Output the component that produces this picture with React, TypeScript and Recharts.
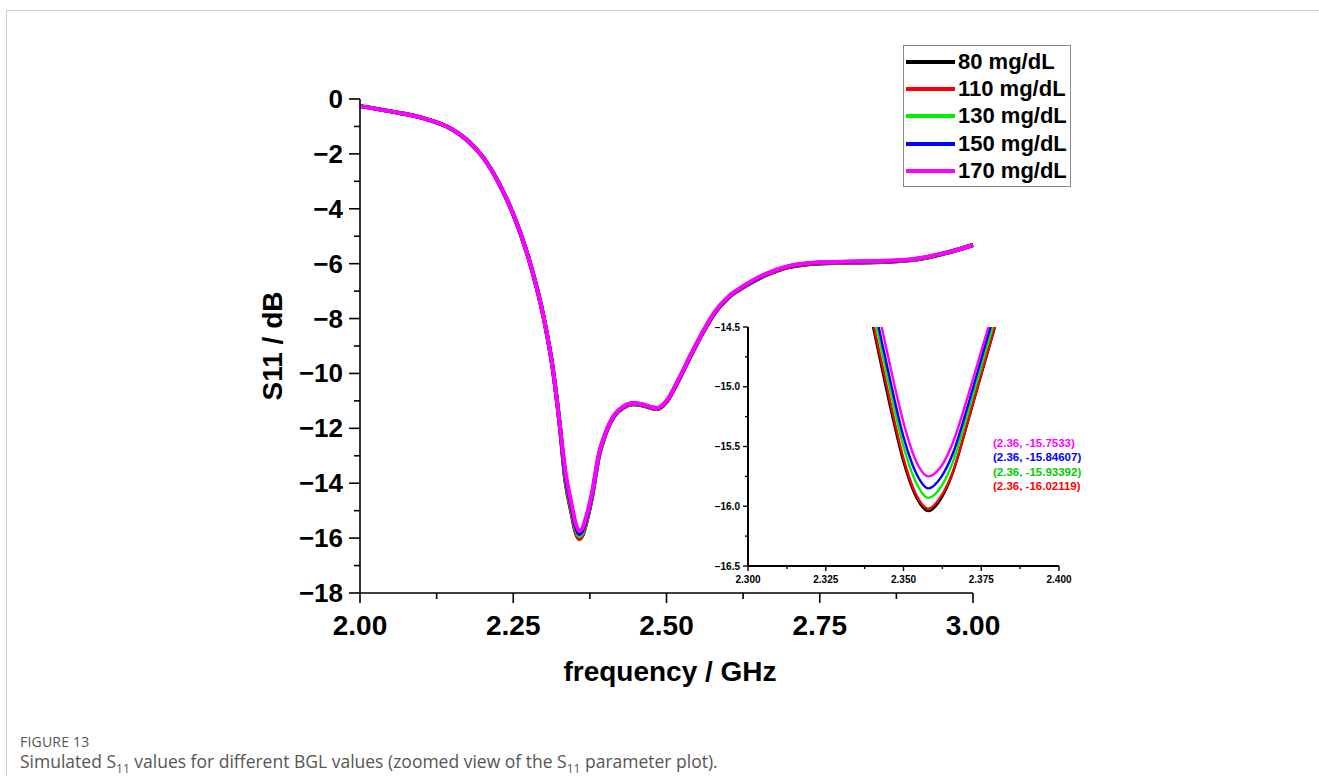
import React from 'react'
import { LineChart, Line, XAxis, YAxis, Legend } from 'recharts'

const FONT = '"Liberation Sans", Arial, Helvetica, sans-serif'

// ── Main sweep: frequency (GHz) and S11 (dB) per BGL level ──────────────────
const FREQ = [
  2.0, 2.05, 2.1, 2.15, 2.175, 2.2, 2.225, 2.25, 2.275, 2.3, 2.315, 2.325, 2.335, 2.345,
  2.352, 2.358, 2.364, 2.37, 2.378, 2.39, 2.4, 2.415, 2.43, 2.445, 2.46, 2.475, 2.485,
  2.5, 2.52, 2.54, 2.56, 2.58, 2.6, 2.63, 2.66, 2.7, 2.75, 2.8, 2.85, 2.9, 2.94, 2.97, 3.0,
]
const S11_80 = [
  -0.26, -0.45, -0.68, -1.1, -1.5, -2.1, -3.0, -4.2, -5.8, -8.0, -9.9, -11.7, -13.9, -15.08,
  -15.8, -16.03, -15.84, -15.36, -14.56, -13.0, -12.25, -11.55, -11.24, -11.12, -11.16, -11.26, -11.3,
  -11.04, -10.24, -9.34, -8.49, -7.76, -7.26, -6.8, -6.44, -6.12, -5.99, -5.96, -5.94, -5.87, -5.7, -5.53, -5.32,
]
const S11_110 = [
  -0.26, -0.45, -0.68, -1.1, -1.5, -2.1, -3.0, -4.2, -5.8, -8.0, -9.9, -11.7, -13.85, -15.05,
  -15.77, -16.02, -15.83, -15.35, -14.55, -13.0, -12.25, -11.55, -11.24, -11.12, -11.16, -11.26, -11.3,
  -11.04, -10.24, -9.34, -8.49, -7.76, -7.26, -6.8, -6.44, -6.12, -5.99, -5.96, -5.94, -5.87, -5.7, -5.53, -5.32,
]
const S11_130 = [
  -0.26, -0.45, -0.68, -1.1, -1.5, -2.1, -3.0, -4.2, -5.8, -8.0, -9.9, -11.7, -13.75, -14.94,
  -15.67, -15.93, -15.75, -15.28, -14.5, -12.95, -12.22, -11.53, -11.22, -11.1, -11.14, -11.24, -11.28,
  -11.02, -10.22, -9.32, -8.47, -7.74, -7.24, -6.78, -6.42, -6.1, -5.97, -5.94, -5.92, -5.86, -5.69, -5.52, -5.32,
]
const S11_150 = [
  -0.26, -0.45, -0.68, -1.1, -1.5, -2.1, -3.0, -4.2, -5.8, -8.0, -9.9, -11.7, -13.67, -14.86,
  -15.59, -15.85, -15.67, -15.22, -14.45, -12.92, -12.21, -11.52, -11.21, -11.09, -11.13, -11.23, -11.27,
  -11.01, -10.21, -9.31, -8.46, -7.73, -7.23, -6.77, -6.41, -6.09, -5.96, -5.93, -5.91, -5.85, -5.69, -5.52, -5.32,
]
const S11_170 = [
  -0.26, -0.45, -0.68, -1.1, -1.5, -2.1, -3.0, -4.2, -5.8, -8.0, -9.9, -11.7, -13.55, -14.74,
  -15.47, -15.75, -15.57, -15.14, -14.4, -12.9, -12.2, -11.5, -11.2, -11.08, -11.12, -11.22, -11.26,
  -11.0, -10.2, -9.3, -8.45, -7.72, -7.22, -6.75, -6.39, -6.08, -5.95, -5.92, -5.9, -5.84, -5.68, -5.52, -5.32,
]

// ── Zoomed view around the resonance dip ───────────────────────────────────
const ZOOM_FREQ = [2.338, 2.342, 2.346, 2.35, 2.354, 2.358, 2.362, 2.366, 2.37, 2.374, 2.378, 2.382]
const ZOOM_80 = [-14.23, -14.72, -15.2, -15.63, -15.92, -16.04, -15.94, -15.71, -15.36, -14.99, -14.63, -14.26]
const ZOOM_110 = [-14.2, -14.68, -15.16, -15.6, -15.9, -16.02, -15.92, -15.7, -15.35, -14.98, -14.62, -14.25]
const ZOOM_130 = [-14.1, -14.58, -15.06, -15.5, -15.8, -15.93, -15.84, -15.62, -15.28, -14.92, -14.56, -14.2]
const ZOOM_150 = [-14.02, -14.5, -14.98, -15.42, -15.72, -15.85, -15.76, -15.55, -15.22, -14.86, -14.5, -14.15]
const ZOOM_170 = [-13.9, -14.38, -14.86, -15.3, -15.62, -15.75, -15.67, -15.46, -15.14, -14.79, -14.44, -14.1]

const LEGEND_LABELS = ['80 mg/dL', '110 mg/dL', '130 mg/dL', '150 mg/dL', '170 mg/dL']
const MIN_LABELS = ['(2.36, -15.7533)', '(2.36, -15.84607)', '(2.36, -15.93392)', '(2.36, -16.02119)']

const MAIN_X_TICKS = [2.0, 2.25, 2.5, 2.75, 3.0]
const MAIN_X_MINOR = [2.125, 2.375, 2.625, 2.875]
const MAIN_Y_TICKS = [0, -2, -4, -6, -8, -10, -12, -14, -16, -18]
const MAIN_Y_MINOR = [-1, -3, -5, -7, -9, -11, -13, -15, -17]
const ZOOM_X_TICKS = [2.3, 2.325, 2.35, 2.375, 2.4]
const ZOOM_X_MINOR = [2.3125, 2.3375, 2.3625, 2.3875]
const ZOOM_Y_TICKS = [-14.5, -15.0, -15.5, -16.0, -16.5]
const ZOOM_Y_MINOR = [-14.75, -15.25, -15.75, -16.25]

// ─────────────────────────────────────────────────────────────────────────────

const COLORS = ['#000000', '#ff0000', '#00ee00', '#0000ff', '#ff00ff']
const KEYS = ['s80', 's110', 's130', 's150', 's170']
const MIN_COLORS = ['#ff00ff', '#0000ff', '#00cc00', '#ff0000']

const mainRows = FREQ.map((f, i) => ({
  f,
  s80: S11_80[i],
  s110: S11_110[i],
  s130: S11_130[i],
  s150: S11_150[i],
  s170: S11_170[i],
}))

const zoomRows = ZOOM_FREQ.map((f, i) => ({
  f,
  s80: ZOOM_80[i],
  s110: ZOOM_110[i],
  s130: ZOOM_130[i],
  s150: ZOOM_150[i],
  s170: ZOOM_170[i],
}))

const minus = (s: string) => s.replace('-', '\u2212')

interface TickOpts {
  side: 'left' | 'bottom'
  major: number[]
  fmt: (v: number) => string
  fontSize: number
  majorLen: number
  minorLen: number
  gap: number
  width: number
}

// tickSize/tickMargin are 0 on the axes, so x/y arrive exactly on the axis line
function makeTick(o: TickOpts) {
  return function Tick(props: any) {
    const { x, y, payload } = props
    const v = payload.value as number
    const isMajor = o.major.some((m) => Math.abs(m - v) < 1e-9)
    const len = isMajor ? o.majorLen : o.minorLen
    if (o.side === 'left') {
      return (
        <g>
          <line x1={x - len} x2={x} y1={y} y2={y} stroke="#000" strokeWidth={o.width} />
          {isMajor && (
            <text x={x - o.gap} y={y} textAnchor="end" dominantBaseline="central"
              fontFamily={FONT} fontWeight="bold" fontSize={o.fontSize} fill="#000">
              {minus(o.fmt(v))}
            </text>
          )}
        </g>
      )
    }
    return (
      <g>
        <line x1={x} x2={x} y1={y} y2={y + len} stroke="#000" strokeWidth={o.width} />
        {isMajor && (
          <text x={x} y={y + o.gap} textAnchor="middle" dominantBaseline="central"
            fontFamily={FONT} fontWeight="bold" fontSize={o.fontSize} fill="#000">
            {o.fmt(v)}
          </text>
        )}
      </g>
    )
  }
}

const MainXTick = makeTick({ side: 'bottom', major: MAIN_X_TICKS, fmt: (v) => v.toFixed(2), fontSize: 28, majorLen: 10, minorLen: 6, gap: 32, width: 1.6 })
const MainYTick = makeTick({ side: 'left', major: MAIN_Y_TICKS, fmt: (v) => String(v), fontSize: 26, majorLen: 11, minorLen: 6, gap: 17, width: 1.6 })
const ZoomXTick = makeTick({ side: 'bottom', major: ZOOM_X_TICKS, fmt: (v) => v.toFixed(3), fontSize: 10, majorLen: 5, minorLen: 3, gap: 13, width: 1.4 })
const ZoomYTick = makeTick({ side: 'left', major: ZOOM_Y_TICKS, fmt: (v) => v.toFixed(1), fontSize: 10, majorLen: 5, minorLen: 3, gap: 8, width: 1.4 })

function LegendBox() {
  return (
    <div style={{ border: '1px solid #8a8a8a', background: '#fff', padding: '2px 0', width: 168, boxSizing: 'border-box' }}>
      {LEGEND_LABELS.map((label, i) => (
        <div key={label} style={{ display: 'flex', alignItems: 'center', height: 27.3 }}>
          <span style={{ display: 'inline-block', width: 49, height: 4, marginLeft: 2, background: COLORS[i] }} />
          <span style={{ marginLeft: 3, fontFamily: FONT, fontWeight: 'bold', fontSize: 22, color: '#000', whiteSpace: 'nowrap' }}>
            {label}
          </span>
        </div>
      ))}
    </div>
  )
}

const title: React.CSSProperties = {
  position: 'absolute', fontFamily: FONT, fontWeight: 'bold', fontSize: 28, color: '#000', whiteSpace: 'nowrap',
}

export default function App() {
  return (
    <div style={{ position: 'absolute', left: 0, top: 0, width: 1319, height: 776, overflow: 'hidden', background: '#fff' }}>
      <div style={{ position: 'absolute', left: 6, top: 10, width: 1400, height: 900, borderTop: '1px solid #cccccc', borderLeft: '1px solid #cccccc' }} />

      <div style={{ position: 'absolute', left: 0, top: 0 }}>
        <LineChart width={1319} height={700} data={mainRows} margin={{ top: 99, right: 346, bottom: 47, left: 300 }}>
          <XAxis dataKey="f" type="number" domain={[2, 3]} ticks={[...MAIN_X_TICKS, ...MAIN_X_MINOR]} interval={0}
            height={60} tickSize={0} tickMargin={0} tickLine={false} tick={MainXTick}
            axisLine={{ stroke: '#000', strokeWidth: 1.6 }} />
          <YAxis type="number" domain={[-18, 0]} ticks={[...MAIN_Y_TICKS, ...MAIN_Y_MINOR]} interval={0}
            width={60} tickSize={0} tickMargin={0} tickLine={false} tick={MainYTick}
            axisLine={{ stroke: '#000', strokeWidth: 1.6 }} />
          <Legend layout="vertical" align="center" verticalAlign="middle" content={<LegendBox />}
            wrapperStyle={{ left: 903, top: 45, width: 169, height: 142 }} />
          {KEYS.map((k, i) => (
            <Line key={k} dataKey={k} name={LEGEND_LABELS[i]} type="monotone" stroke={COLORS[i]} strokeWidth={4}
              dot={false} activeDot={false} isAnimationActive={false} />
          ))}
        </LineChart>
      </div>

      <div style={{ position: 'absolute', left: 690, top: 300 }}>
        <LineChart width={390} height={300} data={zoomRows} margin={{ top: 27, right: 21, bottom: 9, left: 18 }}>
          <XAxis dataKey="f" type="number" domain={[2.3, 2.4]} ticks={[...ZOOM_X_TICKS, ...ZOOM_X_MINOR]} interval={0}
            allowDataOverflow height={25} tickSize={0} tickMargin={0} tickLine={false} tick={ZoomXTick}
            axisLine={{ stroke: '#000', strokeWidth: 2 }} />
          <YAxis type="number" domain={[-16.5, -14.5]} ticks={[...ZOOM_Y_TICKS, ...ZOOM_Y_MINOR]} interval={0}
            allowDataOverflow width={40} tickSize={0} tickMargin={0} tickLine={false} tick={ZoomYTick}
            axisLine={{ stroke: '#000', strokeWidth: 2 }} />
          {KEYS.map((k, i) => (
            <Line key={k} dataKey={k} type="monotone" stroke={COLORS[i]} strokeWidth={2.4}
              dot={false} activeDot={false} isAnimationActive={false} />
          ))}
        </LineChart>
      </div>

      <div style={{ position: 'absolute', left: 993, top: 436, fontFamily: FONT, fontWeight: 'bold', fontSize: 11.5, lineHeight: '14.4px' }}>
        {MIN_LABELS.map((t, i) => (
          <div key={t} style={{ color: MIN_COLORS[i], whiteSpace: 'nowrap' }}>{t}</div>
        ))}
      </div>

      <div style={{ ...title, left: 273, top: 346, transform: 'translate(-50%, -50%) rotate(-90deg)' }}>S11 / dB</div>
      <div style={{ ...title, left: 670, top: 672, transform: 'translate(-50%, -50%)' }}>frequency / GHz</div>

      <div style={{ position: 'absolute', left: 20, top: 732, fontFamily: '"Open Sans", sans-serif', fontSize: 14, color: '#555', letterSpacing: 0.2 }}>
        FIGURE 13
      </div>
      <div style={{ position: 'absolute', left: 20, top: 749, fontFamily: '"Open Sans", sans-serif', fontSize: 17.5, color: '#555', whiteSpace: 'nowrap' }}>
        Simulated S<sub style={{ fontSize: 12 }}>11</sub> values for different BGL values (zoomed view of the S
        <sub style={{ fontSize: 12 }}>11</sub> parameter plot).
      </div>
    </div>
  )
}
